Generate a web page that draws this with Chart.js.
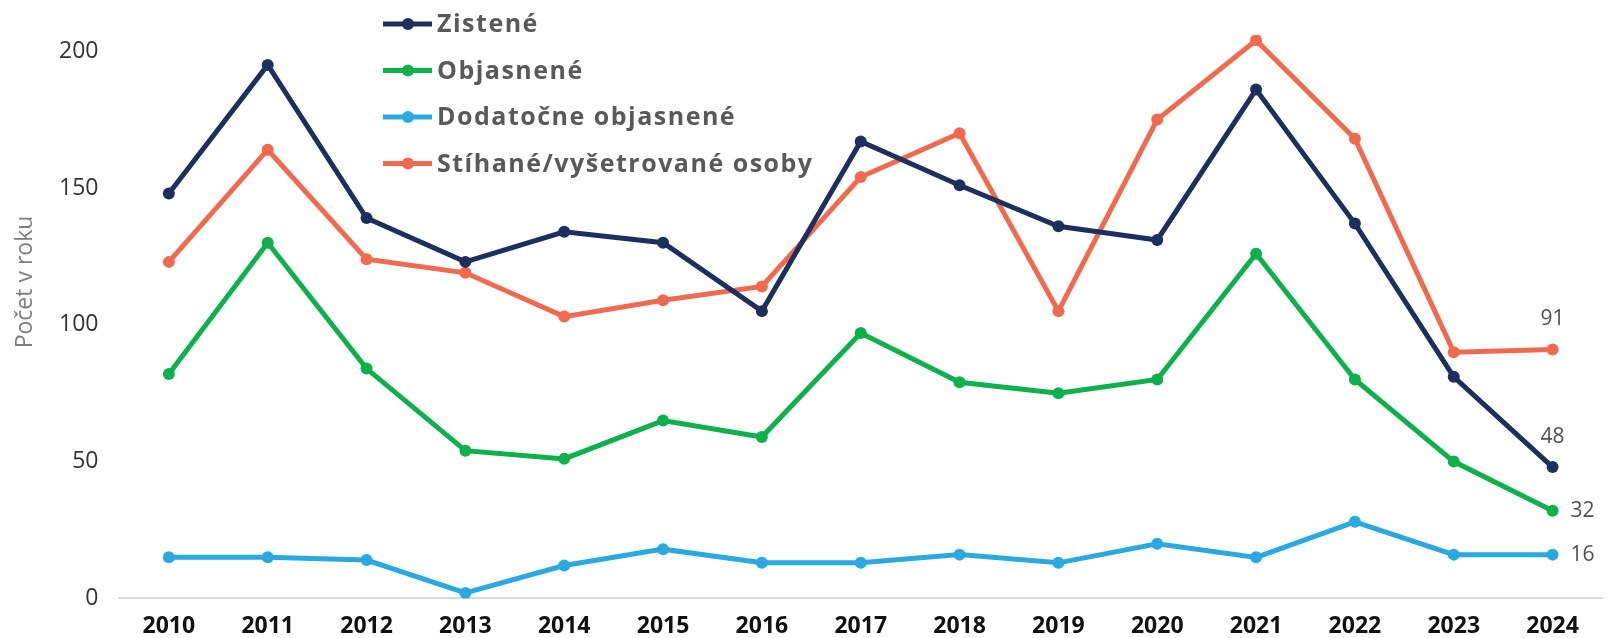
<!DOCTYPE html>
<html lang="sk">
<head>
  <meta charset="UTF-8" />
  <title>Počet v roku</title>
  <script src="https://cdn.jsdelivr.net/npm/chart.js"></script>
  <style>
    html, body { margin: 0; padding: 0; background: #fff; }
    #wrap { width: 1608px; height: 638px; position: relative; }
  </style>
</head>
<body>
  <div id="wrap"><canvas id="chart" width="1608" height="638"></canvas></div>

  <script>
    // data
    const years = ['2010', '2011', '2012', '2013', '2014', '2015', '2016', '2017', '2018', '2019', '2020', '2021', '2022', '2023', '2024'];
    const zistene = [148, 195, 139, 123, 134, 130, 105, 167, 151, 136, 131, 186, 137, 81, 48];
    const objasnene = [82, 130, 84, 54, 51, 65, 59, 97, 79, 75, 80, 126, 80, 50, 32];
    const dodatocne = [15, 15, 14, 2, 12, 18, 13, 13, 16, 13, 20, 15, 28, 16, 16];
    const stihane = [123, 164, 124, 119, 103, 109, 114, 154, 170, 105, 175, 204, 168, 90, 91];
    const yTicks = [0, 50, 100, 150, 200];

    const seriesNames = ['Zistené', 'Objasnené', 'Dodatočne objasnené', 'Stíhané/vyšetrované osoby'];
    const seriesColors = ['#1c2f5e', '#0db04b', '#2aa9e1', '#ef6a4f'];
    const yTitle = 'Počet v roku';

    function lineSet(i, values) {
      return {
        label: seriesNames[i],
        data: values,
        borderColor: seriesColors[i],
        backgroundColor: seriesColors[i],
        borderWidth: 5,
        pointRadius: 6,
        pointBorderWidth: 0,
        tension: 0
      };
    }

    // legend drawn inside the plot, stacked on the upper left
    const innerLegend = {
      id: 'innerLegend',
      afterDraw(chart) {
        const ctx = chart.ctx;
        ctx.save();
        chart.data.datasets.forEach((ds, i) => {
          const y = 24 + i * 46.5;
          ctx.strokeStyle = ds.borderColor;
          ctx.lineWidth = 5;
          ctx.beginPath();
          ctx.moveTo(383, y);
          ctx.lineTo(432, y);
          ctx.stroke();
          ctx.fillStyle = ds.borderColor;
          ctx.beginPath();
          ctx.arc(408, y, 6, 0, Math.PI * 2);
          ctx.fill();
          ctx.fillStyle = '#595959';
          ctx.font = 'bold 25px "Open Sans"';
          ctx.letterSpacing = '1.5px';
          ctx.textBaseline = 'middle';
          ctx.textAlign = 'left';
          ctx.fillText(ds.label, 437, y + 1);
        });
        ctx.restore();
      }
    };

    // y title, sits a bit above the middle like in the source
    const sideTitle = {
      id: 'sideTitle',
      afterDraw(chart) {
        const ctx = chart.ctx;
        ctx.save();
        ctx.translate(25, 282);
        ctx.rotate(-Math.PI / 2);
        ctx.font = '23px "Open Sans"';
        ctx.fillStyle = '#7f7f7f';
        ctx.textAlign = 'center';
        ctx.textBaseline = 'middle';
        ctx.fillText(yTitle, 0, 0);
        ctx.restore();
      }
    };

    // last-year value labels
    const endLabels = {
      id: 'endLabels',
      afterDatasetsDraw(chart) {
        const ctx = chart.ctx;
        ctx.save();
        ctx.font = '21px "Open Sans"';
        ctx.fillStyle = '#505050';
        ctx.textBaseline = 'middle';
        const last = years.length - 1;
        [[0, 'top'], [1, 'right'], [2, 'right'], [3, 'top']].forEach(([i, pos]) => {
          const pt = chart.getDatasetMeta(i).data[last];
          const v = chart.data.datasets[i].data[last];
          if (pos === 'top') {
            ctx.textAlign = 'center';
            ctx.fillText(String(v), pt.x, pt.y - 30);
          } else {
            ctx.textAlign = 'left';
            ctx.fillText(String(v), pt.x + 18, pt.y);
          }
        });
        ctx.restore();
      }
    };

    new Chart(document.getElementById('chart'), {
      type: 'line',
      data: {
        labels: years,
        datasets: [
          lineSet(0, zistene),
          lineSet(1, objasnene),
          lineSet(2, dodatocne),
          lineSet(3, stihane)
        ]
      },
      options: {
        responsive: false,
        animation: false,
        layout: { padding: { top: 0, right: 2, bottom: -16, left: 38 } },
        plugins: {
          legend: { display: false },
          tooltip: { enabled: false }
        },
        scales: {
          x: {
            offset: true,
            grid: { display: false, drawTicks: false },
            border: { display: true, color: '#d9d9d9', width: 2 },
            ticks: {
              color: '#111',
              font: { family: '"Open Sans"', size: 23, weight: 'bold' },
              padding: 14
            }
          },
          y: {
            min: 0,
            max: 206,
            afterBuildTicks(scale) {
              scale.ticks = yTicks.map(v => ({ value: v }));
            },
            grid: { display: false, drawTicks: false },
            border: { display: false },
            ticks: {
              color: '#333',
              font: { family: '"Open Sans"', size: 23 },
              padding: 21
            }
          }
        }
      },
      plugins: [innerLegend, sideTitle, endLabels]
    });
  </script>
</body>
</html>
